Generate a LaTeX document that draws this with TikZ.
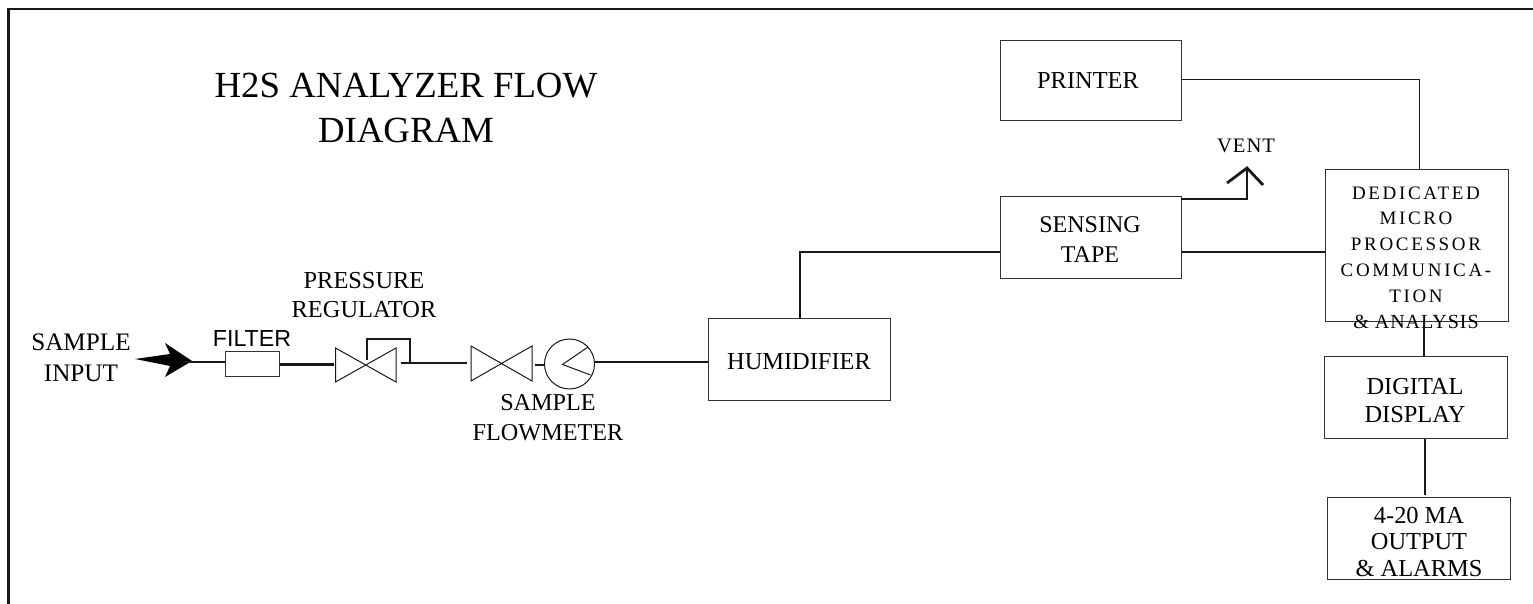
\documentclass[tikz,border=0pt]{standalone}
\usepackage{fontspec}
\usepackage{tikz}
\setmainfont{Liberation Serif}
\setsansfont{Liberation Sans}
\newfontfamily\spacedfont[LetterSpace=14]{Liberation Serif}
\newfontfamily\lightspacedfont[LetterSpace=5]{Liberation Serif}
\tikzset{
	block/.style={draw=black!80,line width=0.5pt,inner sep=0pt},
	pipe/.style={draw=black!90,line width=1.4pt},
	thin pipe/.style={draw=black!90,line width=0.5pt},
	label/.style={align=center,inner sep=0pt,font=\fontsize{12.2}{14}\selectfont}
}
\begin{document}
\begin{tikzpicture}[x=0.5pt,y=-0.5pt]
	\useasboundingbox (0,0) rectangle (1533,604);
	% frame
	\coordinate (fa) at (8.5,604);
	\coordinate (fb) at (8.5,9);
	\coordinate (fc) at (1533,9);
	\draw[line width=1.3pt,black!90] (fa) -- (fb) -- (fc);
	% title
	\node[align=center,inner sep=0pt,font=\fontsize{18.4}{22.2}\selectfont] at (406,108) (title) {H2S ANALYZER FLOW\\DIAGRAM};
	% blocks
	\node[block,minimum width=90.5pt,minimum height=40pt] at (1090.5,81) (printer) {};
	\node[block,minimum width=90.5pt,minimum height=41pt] at (1090.5,238) (sensing) {};
	\node[block,minimum width=91.5pt,minimum height=76pt] at (1416.5,246) (micro) {};
	\node[block,minimum width=91.5pt,minimum height=41pt] at (1415.5,398) (display) {};
	\node[block,minimum width=91.5pt,minimum height=41pt] at (1418.5,538) (output) {};
	\node[block,minimum width=91pt,minimum height=41pt] at (799,360) (humid) {};
	\node[block,minimum width=27pt,minimum height=12.5pt] at (252,364.5) (filter) {};
	% block texts
	\node[label] at (1088,81) (printertxt) {PRINTER};
	\node[label,align=center,font=\fontsize{12}{15}\selectfont] at (1090,240) (sensingtxt) {SENSING\\TAPE};
	\node[label,align=center] at (1415,401) (displaytxt) {DIGITAL\\DISPLAY};
	\node[label,align=center,font=\fontsize{12.2}{13.2}\selectfont] at (1419,542) (outputtxt) {4-20 MA\\OUTPUT\\\& ALARMS};
	\node[label] at (799,362) (humidtxt) {HUMIDIFIER};
	\node[align=center,inner sep=0pt,font=\spacedfont\fontsize{9.5}{12.9}\selectfont] at (1416,257.5) (microtxt) {DEDICATED\\MICRO\\PROCESSOR\\COMMUNICA-\\TION\\{\lightspacedfont\fontsize{10}{12.9}\selectfont\& ANALYSIS}};
	% other labels
	\node[label,align=center,font=\fontsize{12.6}{15.4}\selectfont] at (81,358) (sampletxt) {SAMPLE\\INPUT};
	\node[inner sep=0pt,font=\sffamily\fontsize{11.6}{13}\selectfont] at (252,339) (filtertxt) {FILTER};
	\node[label,align=center,font=\fontsize{12.2}{14.5}\selectfont] at (364,295) (regtxt) {PRESSURE\\REGULATOR};
	\node[label,align=center,font=\fontsize{12.1}{15}\selectfont] at (548,418) (flowtxt) {SAMPLE\\FLOWMETER};
	\node[inner sep=0pt,font=\lightspacedfont\fontsize{10.3}{11}\selectfont] at (1246,146) (venttxt) {VENT};
	% valves and flowmeter
	\draw[thin pipe] (335.5,348) -- (396,382) -- (396,348) -- (335.5,382) -- cycle;
	\draw[thin pipe] (471,346) -- (532,381) -- (532,346) -- (471,381) -- cycle;
	\node[draw=black!90,line width=0.5pt,circle,minimum size=25pt,inner sep=0pt] at (569.5,364) (meter) {};
	\coordinate (mc) at (562.5,364.5);
	\draw[thin pipe] (588,347) -- (mc) -- (590.5,375);
	% sample arrow
	\fill (135,359) -- (170,354) -- (165,343) -- (192,361) -- (165,377) -- (170,366) -- cycle;
	% pipes
	\coordinate (ain) at (183,362);
	\coordinate (fin) at (filter.west |- ain);
	\draw[pipe] (ain) -- (fin);
	\coordinate (vain) at (334,364.5);
	\draw[pipe] (filter.east) -- (vain);
	\coordinate (vaout) at (401,363);
	\coordinate (vbin) at (467,363);
	\draw[pipe] (vaout) -- (vbin);
	\coordinate (byp) at (410,363);
	\draw[pipe] (367,360) -- (367,339) -- (410,339) -- (byp);
	\coordinate (vbout) at (535,365);
	\coordinate (mtin) at (544,365);
	\draw[pipe] (vbout) -- (mtin);
	\coordinate (mtout) at (595,362);
	\draw[pipe] (mtout) -- (humid.west |- mtout);
	\draw[pipe] (800,319) -- (800,252) -- (sensing.west |- 800,252);
	\draw[pipe] (sensing.east |- 0,252) -- (micro.west |- 0,252);
	\coordinate (vent) at (1247,168);
	\coordinate (vl) at (1227,183);
	\coordinate (vr) at (1263,185);
	\draw[pipe] (1181,199) -- (1247,199) -- (vent);
	\draw[pipe] (vl) -- (vent) -- (vr);
	\draw[thin pipe] (1181,80) -- (1419,80) -- (1419,170);
	\draw[pipe] (1424,322) -- (1424,357);
	\draw[pipe] (1425,439) -- (1425,495);
\end{tikzpicture}
\end{document}
